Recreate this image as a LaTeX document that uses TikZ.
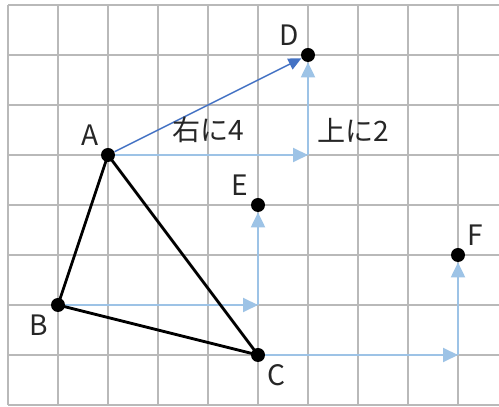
\documentclass[tikz,border=0pt]{standalone}
\usepackage{fontspec}
\setmainfont{Noto Sans CJK JP}
\usetikzlibrary{arrows.meta}
\definecolor{lightblue}{RGB}{157,195,230}
\definecolor{midblue}{RGB}{68,114,196}

\begin{document}
\begin{tikzpicture}[
    gridline/.style={gray!55, line width=0.9pt},
    pt/.style={circle, fill=black, inner sep=0pt, minimum size=0.28cm},
    lab/.style={font=\fontsize{16}{18}\selectfont, text=black!85},
    move/.style={-{Triangle[length=3mm, width=2.8mm]}, line width=1.1pt, lightblue},
    slant/.style={-{Triangle[length=2.6mm, width=2.4mm]}, line width=0.8pt, midblue},
    side/.style={line width=1.6pt, black}
  ]
  \useasboundingbox (-0.16,-0.04) rectangle (9.82,8.1);
  \fill[white] (-0.16,-0.04) rectangle (9.82,8.1);

  % Grid
  \draw[gridline] (0,0) grid (9.82,8);

  % Points
  \node[pt, label={[lab, label distance=-0.5mm]above left:A}] (A) at (2,5) {};
  \node[pt, label={[lab, label distance=-0.5mm]below left:B}] (B) at (1,2) {};
  \node[pt, label={[lab, label distance=-0.5mm]below right:C}] (C) at (5,1) {};
  \node[pt, label={[lab, label distance=-0.5mm]above left:D}] (D) at (6,7) {};
  \node[pt, label={[lab, label distance=-0.5mm]above left:E}] (E) at (5,4) {};
  \node[pt, label={[lab, label distance=-0.5mm]above right:F}] (F) at (9,3) {};

  % Corners of the moves
  \coordinate (A4) at (6,5);
  \coordinate (B4) at (5,2);
  \coordinate (C4) at (9,1);

  % Moves
  \draw[move] (A) -- (A4);
  \draw[move] (A4) -- (D);
  \draw[move] (B) -- (B4);
  \draw[move] (B4) -- (E);
  \draw[move] (C) -- (C4);
  \draw[move] (C4) -- (F);
  \draw[slant] (A) -- (D);

  % Triangle
  \draw[side] (A.center) -- (B.center) -- (C.center) -- cycle;

  \node[lab] (right4) at (4,5.5) {右に4};
  \node[lab] (up2) at (6.9,5.5) {上に2};
\end{tikzpicture}
\end{document}
